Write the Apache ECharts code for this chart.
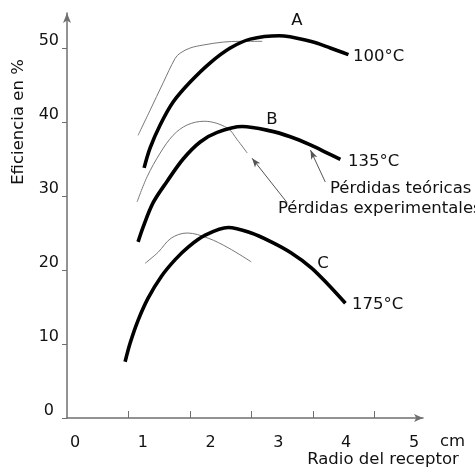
<!DOCTYPE html>
<html><head><meta charset="utf-8">
<script src="https://cdn.jsdelivr.net/npm/echarts@6/dist/echarts.min.js"></script>
<style>html,body{margin:0;padding:0;background:#fff}#c{width:475px;height:469px}</style>
</head><body><div id="c"></div>
<script>
// ---- data ----
const xTickValues = [1, 2, 3, 4, 5];
const xTickLabels = [0, 1, 2, 3, 4, 5];
const yTickValues = [0, 10, 20, 30, 40, 50];
// thick curves (Pérdidas teóricas)
const curveA = [[1.254,33.8],[1.352,36.5],[1.515,39.6],[1.726,42.7],[2.003,45.4],[2.329,48.0],[2.655,50.0],[2.980,51.2],[3.453,51.66],[3.958,50.9],[4.283,50.0],[4.577,49.1]];
const curveB = [[1.156,23.8],[1.238,25.8],[1.401,29.1],[1.629,32.0],[1.889,35.0],[2.166,37.3],[2.443,38.6],[2.850,39.39],[3.306,38.8],[3.632,38.0],[3.958,36.9],[4.235,35.8],[4.446,34.95]];
const curveC = [[0.945,7.6],[1.026,10.1],[1.156,13.2],[1.319,16.2],[1.531,19.1],[1.759,21.4],[1.971,23.1],[2.248,24.7],[2.622,25.74],[2.997,25.0],[3.322,23.8],[3.648,22.3],[3.974,20.3],[4.251,18.0],[4.528,15.5]];
// thin curves (Pérdidas experimentales)
const expA = [[1.156,38.2],[1.352,41.6],[1.564,45.3],[1.759,48.6],[1.840,49.3],[2.003,50.0],[2.215,50.4],[2.541,50.8],[2.818,50.9],[3.176,50.9]];
const expB = [[1.140,29.2],[1.303,32.6],[1.515,35.8],[1.726,38.2],[1.954,39.6],[2.231,40.1],[2.606,39.2],[2.769,37.6],[2.932,35.8]];
const expC = [[1.270,20.9],[1.482,22.4],[1.694,24.3],[1.954,25.0],[2.296,24.3],[2.622,23.0],[2.997,21.1]];

const FONT = 'DejaVu Sans, sans-serif';
const AXIS = '#6f6f6f';
const chart = echarts.init(document.getElementById('c'));

function thick(d){ return {type:'line', data:d, symbol:'none', smooth:0.33, xAxisIndex:0, yAxisIndex:0,
  lineStyle:{color:'#000', width:3.6}, silent:true, z:3}; }
function thin(d){ return {type:'line', data:d, symbol:'none', smooth:0.35, xAxisIndex:0, yAxisIndex:0,
  lineStyle:{color:'#777', width:1}, silent:true, z:2}; }

function txt(text, x, y, align){
  return {type:'text', x:x, y:y, silent:true,
    style:{text:text, font:'16.5px ' + FONT, fill:'#111', textAlign:align||'left', textVerticalAlign:'middle'}};
}

const option = {
  animation:false,
  backgroundColor:'#fff',
  grid:{left:67, right:52, top:13, bottom:51, containLabel:false},
  xAxis:[{
    type:'value', min:0, max:5.79, position:'bottom',
    axisLine:{show:true, lineStyle:{color:AXIS, width:1.5}, symbol:['none','arrow'], symbolSize:[6,9]},
    axisTick:{show:true, inside:true, length:7, lineStyle:{color:AXIS}, customValues:xTickValues},
    axisLabel:{show:false}, splitLine:{show:false}
  },{
    type:'value', min:-0.118, max:5.133, position:'bottom',
    axisLine:{show:false}, axisTick:{show:false}, splitLine:{show:false},
    axisLabel:{show:true, margin:17, color:'#111', fontSize:16, fontFamily:FONT, customValues:xTickLabels}
  }],
  yAxis:[{
    type:'value', min:0, max:54.73,
    axisLine:{show:true, lineStyle:{color:AXIS, width:1.5}, symbol:['none','arrow'], symbolSize:[6,10]},
    axisTick:{show:true, inside:false, length:5, lineStyle:{color:AXIS}, customValues:yTickValues},
    axisLabel:{show:true, margin:8, color:'#111', fontSize:16, fontFamily:FONT, customValues:yTickValues,
      verticalAlign:'middle', padding:[0,0,15,0],
      formatter:function(v){ return v===0 ? '{z|0}' : String(v); },
      rich:{z:{fontSize:16, fontFamily:FONT, color:'#111', padding:[0,5,0,0]}}},
    splitLine:{show:false}
  }],
  series:[
    thin(expA), thin(expB), thin(expC),
    thick(curveA), thick(curveB), thick(curveC),
    {type:'line', data:[], xAxisIndex:0, yAxisIndex:0, silent:true,
     markLine:{silent:true, symbol:['none','arrow'], symbolSize:[5,9], label:{show:false},
       lineStyle:{color:'#555', width:1, type:'solid'}, animation:false,
       data:[
         [{coord:[4.20,31.9]},{coord:[3.96,36.2]}],
         [{coord:[3.58,29.1]},{coord:[3.01,35.1]}]
       ]}}
  ],
  graphic:[
    txt('A', 297, 21, 'center'),
    txt('100°C', 353, 57),
    txt('B', 272, 120, 'center'),
    txt('135°C', 348, 162),
    txt('Pérdidas teóricas', 330, 189),
    txt('Pérdidas experimentales', 278, 209),
    txt('C', 323, 264, 'center'),
    txt('175°C', 352, 305),
    txt('cm', 440, 442),
    txt('Radio del receptor', 383, 460, 'center'),
    {type:'text', x:18.5, y:122, rotation:Math.PI/2, silent:true,
     style:{text:'Eficiencia en %', font:'16.5px ' + FONT, fill:'#111', textAlign:'center', textVerticalAlign:'middle'}}
  ]
};
chart.setOption(option);
</script></body></html>
